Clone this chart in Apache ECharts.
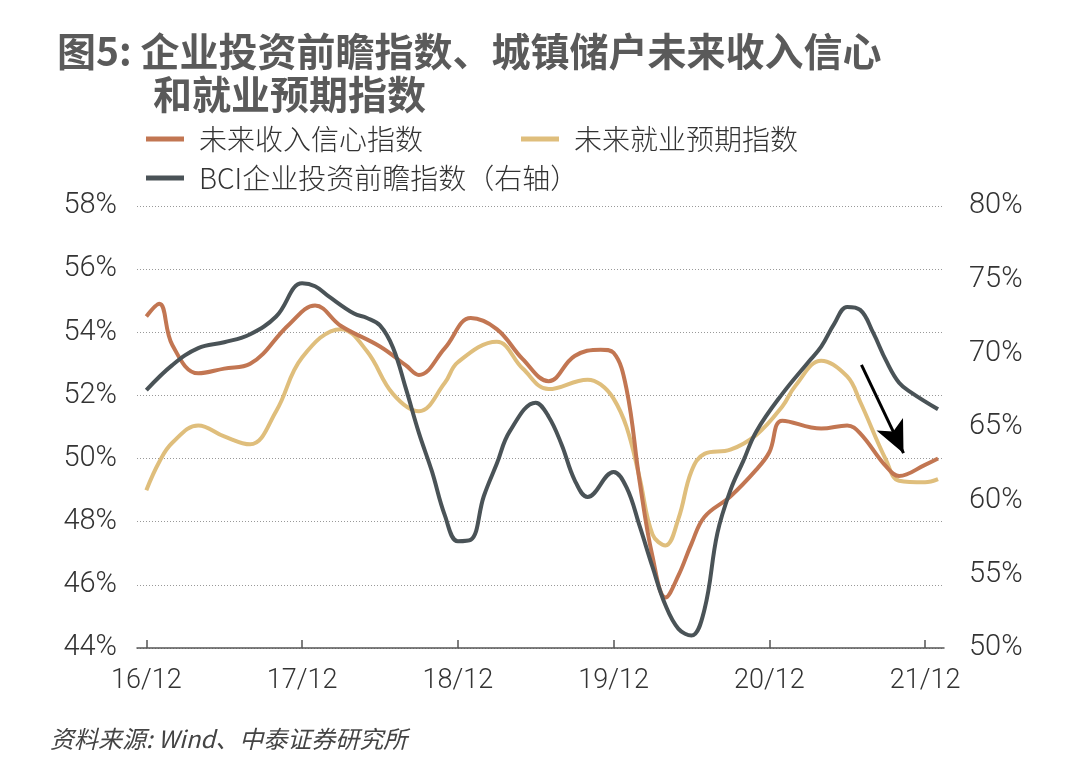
<!DOCTYPE html>
<html>
<head>
<meta charset="utf-8">
<script src="https://cdn.jsdelivr.net/npm/echarts@6/dist/echarts.min.js"></script>
<style>html,body{margin:0;padding:0;background:#fff;}#c{width:1080px;height:772px;}</style>
</head>
<body>
<div id="c"></div>
<script>
// ---- data ----
const xTickDates = ['2016-12','2017-12','2018-12','2019-12','2020-12','2021-12'];
const xTickLabels = ['16/12','17/12','18/12','19/12','20/12','21/12'];

const incomeName = '未来收入信心指数';
const incomeDates = ['2016-12','2017-01','2017-02','2017-04','2017-06','2017-08','2017-11','2018-01','2018-03','2018-06','2018-08','2018-09','2018-11','2019-01','2019-03','2019-05','2019-07','2019-09','2019-11','2019-12','2020-01','2020-02','2020-03','2020-04','2020-05','2020-06','2020-07','2020-09','2020-11','2020-12','2021-01','2021-04','2021-06','2021-07','2021-09','2021-10','2021-12','2022-01'];
const incomeValues = [54.5,54.9,53.6,52.7,52.85,53.0,54.25,54.85,54.2,53.55,52.95,52.65,53.5,54.45,54.1,53.15,52.45,53.25,53.45,53.35,52.2,49.3,46.9,45.6,46.3,47.3,48.15,48.8,49.65,50.2,51.2,50.95,51.05,50.8,49.75,49.45,49.8,50.0];

const jobName = '未来就业预期指数';
const jobDates = ['2016-12','2017-01','2017-02','2017-04','2017-06','2017-08','2017-10','2017-12','2018-03','2018-05','2018-07','2018-09','2018-11','2018-12','2019-03','2019-05','2019-07','2019-10','2019-11','2019-12','2020-01','2020-02','2020-03','2020-04','2020-05','2020-06','2020-07','2020-09','2020-11','2021-01','2021-02','2021-04','2021-06','2021-07','2021-09','2021-10','2021-12','2022-01'];
const jobValues = [49.0,49.9,50.5,51.05,50.7,50.45,51.5,53.2,54.1,53.4,52.05,51.5,52.4,53.05,53.7,52.85,52.2,52.5,52.35,51.9,51.0,49.4,47.6,47.25,48.1,49.6,50.15,50.28,50.75,51.65,52.3,53.1,52.6,51.8,49.95,49.3,49.25,49.35];

const bciName = 'BCI企业投资前瞻指数（右轴）';
const bciDates = ['2016-12','2017-02','2017-04','2017-06','2017-08','2017-10','2017-12','2018-01','2018-02','2018-04','2018-05','2018-06','2018-07','2018-08','2018-09','2018-10','2018-11','2018-12','2019-01','2019-02','2019-03','2019-04','2019-06','2019-07','2019-08','2019-09','2019-10','2019-12','2020-01','2020-02','2020-03','2020-04','2020-05','2020-06','2020-07','2020-08','2020-09','2020-10','2020-11','2021-01','2021-03','2021-04','2021-05','2021-06','2021-07','2021-08','2021-09','2021-10','2021-11','2022-01'];
const bciValues = [67.5,69.2,70.35,70.75,71.3,72.5,74.75,74.55,73.9,72.7,72.4,71.9,70.4,67.6,64.6,62.0,59.0,57.25,57.35,60.3,62.5,64.7,66.65,65.7,63.8,61.4,60.25,61.95,60.9,58.3,55.5,52.9,51.3,50.85,52.6,57.8,60.7,62.7,64.7,67.25,69.4,70.45,72.0,73.15,72.95,71.4,69.5,68.0,67.3,66.2];

const leftTicks = {min: 44, max: 58, interval: 2};
const rightTicks = {min: 50, max: 80, interval: 5};

// ---- helpers ----
function mIdx(s) { const p = s.split('-').map(Number); return (p[0] - 2016) * 12 + (p[1] - 12); }
function pairs(dates, vals) { return dates.map((d, i) => [mIdx(d), vals[i]]); }

const tickIdx = xTickDates.map(mIdx);
const labelMap = {};
tickIdx.forEach((t, i) => labelMap[t] = xTickLabels[i]);

const numFont = 'Roboto, "Liberation Sans", sans-serif';
const cjkFont = '"Noto Sans CJK SC", sans-serif';

const chart = echarts.init(document.getElementById('c'), null, {renderer: 'canvas'});
const legendBase = {
  padding: 0, icon: 'rect', itemWidth: 38, itemHeight: 5,
  textStyle: {fontSize: 28, lineHeight: 30, color: '#333', fontFamily: cjkFont, fontWeight: 300, padding: [0, 0, 0, 10]},
  selectedMode: false
};
chart.setOption({
  animation: false,
  backgroundColor: '#fff',
  title: [
    {text: '图5: 企业投资前瞻指数、城镇储户未来收入信心', left: 52, top: 25,
     textStyle: {fontSize: 39, fontWeight: 'bold', color: '#5a5a5a', fontFamily: cjkFont, lineHeight: 42}},
    {text: '和就业预期指数', left: 148, top: 68,
     textStyle: {fontSize: 39, fontWeight: 'bold', color: '#5a5a5a', fontFamily: cjkFont, lineHeight: 42}}
  ],
  legend: [
    Object.assign({}, legendBase, {data: [incomeName], left: 146, top: 124}),
    Object.assign({}, legendBase, {data: [jobName], left: 521, top: 124}),
    Object.assign({}, legendBase, {data: [bciName], left: 146, top: 163})
  ],
  grid: {left: 137, right: 136, top: 206, bottom: 124, containLabel: false},
  xAxis: {
    type: 'value', min: -0.72, max: 61.46,
    axisLine: {show: true, lineStyle: {color: '#555', width: 1.5}},
    axisTick: {show: true, inside: true, length: 8, customValues: tickIdx, lineStyle: {color: '#555', width: 1.5}},
    axisLabel: {customValues: tickIdx, formatter: v => labelMap[v] || '', fontSize: 27, color: '#333',
      fontFamily: numFont, fontWeight: 300, margin: 20},
    splitLine: {show: false}
  },
  yAxis: [
    {type: 'value', position: 'left', min: leftTicks.min, max: leftTicks.max, interval: leftTicks.interval,
     axisLine: {show: false}, axisTick: {show: false},
     axisLabel: {formatter: v => v + '%', fontSize: 29, color: '#333', fontFamily: numFont, fontWeight: 300, margin: 20},
     splitLine: {show: true, lineStyle: {color: '#999', width: 1, type: [1, 2]}}},
    {type: 'value', position: 'right', min: rightTicks.min, max: rightTicks.max, interval: rightTicks.interval,
     axisLine: {show: false}, axisTick: {show: false},
     axisLabel: {formatter: v => v + '%', fontSize: 29, color: '#333', fontFamily: numFont, fontWeight: 300, margin: 25},
     splitLine: {show: false}}
  ],
  series: [
    {name: jobName, type: 'line', yAxisIndex: 0, data: pairs(jobDates, jobValues), smooth: 0.4,
     showSymbol: false, symbol: 'none', color: '#dfbe7c', lineStyle: {width: 4, color: '#dfbe7c'}, z: 2},
    {name: incomeName, type: 'line', yAxisIndex: 0, data: pairs(incomeDates, incomeValues), smooth: 0.4,
     showSymbol: false, symbol: 'none', color: '#c27652', lineStyle: {width: 4, color: '#c27652'}, z: 3,
     markLine: {
       silent: true, symbol: ['none', 'arrow'], symbolSize: [22, 32],
       label: {show: false},
       lineStyle: {color: '#000', width: 3, type: 'solid'},
       data: [[{coord: [55.1, 52.97]}, {coord: [58.34, 50.17]}]]
     }},
    {name: bciName, type: 'line', yAxisIndex: 1, data: pairs(bciDates, bciValues), smooth: 0.4,
     showSymbol: false, symbol: 'none', color: '#4a5357', lineStyle: {width: 4, color: '#4a5357'}, z: 4}
  ],
  graphic: [
    {type: 'text', left: 50, top: 727,
     style: {text: '资料来源: Wind、中泰证券研究所', fontSize: 24, fontStyle: 'italic', fill: '#444', fontFamily: cjkFont}}
  ]
});
</script>
</body>
</html>
